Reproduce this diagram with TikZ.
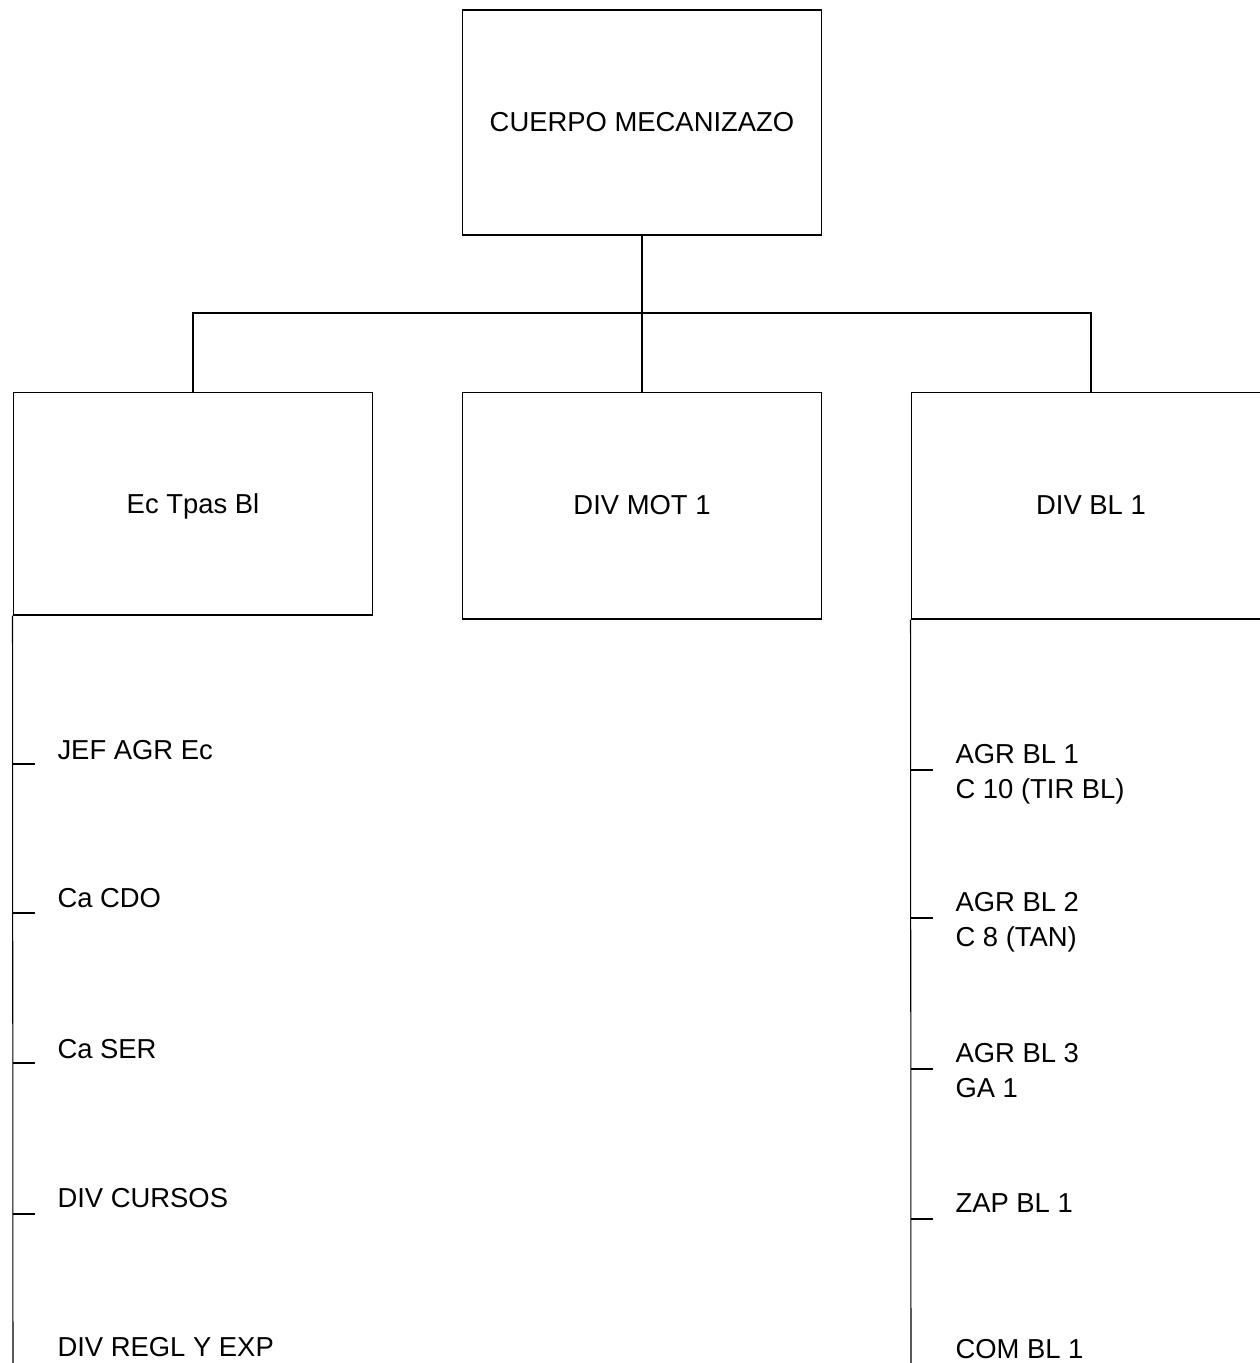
\documentclass[tikz,border=0pt]{standalone}
\usepackage{fontspec}
\setmainfont{Liberation Sans}
\tikzset{
  unit/.style={draw, minimum width=7.2cm, minimum height=4.5cm, inner sep=0pt},
  item/.style={anchor=base west, inner sep=0pt, align=left},
}
\begin{document}
\begin{tikzpicture}[x=0.02cm, y=-0.02cm, line width=0.6pt, font=\fontsize{15.6}{19.6}\selectfont]
\path[use as bounding box, clip] (0,0) rectangle (1260,1363);
% mando y dependencias
\node[unit] (cuerpo) at (642,122.5) {CUERPO MECANIZAZO};
\node[unit, minimum height=4.46cm, text depth=0pt] (ectpas) at (193,503.5) {Ec Tpas Bl};
\node[unit, minimum height=4.54cm] (divmot) at (642,505.5) {DIV MOT 1};
\node[unit, minimum height=4.54cm] (divbl) at (1091,505.5) {DIV BL 1};
% enlaces
\coordinate (bus) at (642,313);
\draw (cuerpo) -- (divmot);
\draw (ectpas.north) |- (bus) -| (divbl.north);
\coordinate (lfin) at (13,1363);
\coordinate (rfin) at (911,1363);
\draw (ectpas.south west) -- (lfin);
\draw (divbl.south west) -- (rfin);
% escuela
\foreach \t/\b/\txt [count=\i] in {764/759/JEF AGR Ec, 913/907/Ca CDO, 1063/1058/Ca SER, 1214/1207/DIV CURSOS}
{
  \coordinate (lt\i) at (13,\t);
  \draw (lt\i) -- ++(22,0);
  \node[item] (li\i) at (57,\b) {\txt};
}
\node[item] (li5) at (57,1356) {DIV REGL Y EXP};
% division blindada (base = ultima linea)
\foreach \t/\b/\txt [count=\i] in {770/798/{AGR BL 1\\C 10 (TIR BL)}, 918/946/{AGR BL 2\\C 8 (TAN)}, 1069/1097/{AGR BL 3\\GA 1}, 1219/1212/{ZAP BL 1}}
{
  \coordinate (rt\i) at (911,\t);
  \draw (rt\i) -- ++(22,0);
  \node[item] (ri\i) at (955,\b) {\txt};
}
\node[item] (ri5) at (955,1358) {COM BL 1};
\end{tikzpicture}
\end{document}
